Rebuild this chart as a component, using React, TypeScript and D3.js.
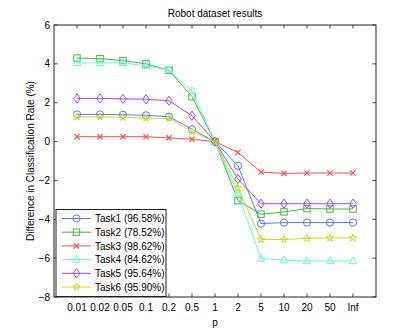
import React, { useEffect, useRef } from 'react';
import * as d3 from 'd3';

const pLabels = ['0.01', '0.02', '0.05', '0.1', '0.2', '0.5', '1', '2', '5', '10', '20', '50', 'Inf'];

const task1 = [1.4, 1.4, 1.38, 1.35, 1.28, 0.63, 0, -1.25, -4.22, -4.17, -4.17, -4.17, -4.17];
const task2 = [4.3, 4.27, 4.17, 4.0, 3.67, 2.31, 0, -3.04, -3.74, -3.62, -3.45, -3.47, -3.47];
const task3 = [0.25, 0.25, 0.25, 0.25, 0.19, 0.12, 0, -0.56, -1.57, -1.64, -1.62, -1.62, -1.62];
const task4 = [4.05, 4.05, 4.05, 3.9, 3.68, 2.6, 0, -2.7, -6.02, -6.1, -6.15, -6.15, -6.15];
const task5 = [2.22, 2.22, 2.2, 2.18, 2.1, 1.33, 0, -1.93, -3.2, -3.2, -3.2, -3.2, -3.2];
const task6 = [1.27, 1.27, 1.25, 1.2, 1.2, 0.5, 0, -2.39, -5.04, -5.04, -4.98, -4.96, -4.96];

const seriesNames = ['Task1 (96.58%)', 'Task2 (78.52%)', 'Task3 (98.62%)', 'Task4 (84.62%)', 'Task5 (95.64%)', 'Task6 (95.90%)'];
const seriesColors = ['#5a78ff', '#44b844', '#ff4c4c', '#66ffc8', '#a844ff', '#c8dc22'];
const seriesMarkers = ['circle', 'square', 'cross', 'triangle', 'diamond', 'star'];
const seriesData = [task1, task2, task3, task4, task5, task6];

const yTicks = [6, 4, 2, 0, -2, -4, -6, -8];

const FONT = 'Liberation Sans, Arial, sans-serif';

// draws a matlab-ish marker centred at 0,0
function drawMarker(g, type, color) {
  if (type === 'circle') {
    g.append('circle').attr('r', 3.6).attr('fill', 'none').attr('stroke', color);
  } else if (type === 'square') {
    g.append('rect').attr('x', -3.2).attr('y', -3.2).attr('width', 6.4).attr('height', 6.4)
      .attr('fill', 'none').attr('stroke', color);
  } else if (type === 'cross') {
    g.append('path').attr('d', 'M-2.6,-2.6L2.6,2.6M-2.6,2.6L2.6,-2.6').attr('stroke', color).attr('stroke-width', 1.2);
  } else if (type === 'triangle') {
    g.append('path').attr('d', 'M0,-4.2L3.8,2.6L-3.8,2.6Z').attr('fill', 'none').attr('stroke', color);
  } else if (type === 'diamond') {
    g.append('path').attr('d', 'M0,-4.6L3.3,0L0,4.6L-3.3,0Z').attr('fill', 'none').attr('stroke', color);
  } else {
    g.append('path').attr('d', d3.symbol(d3.symbolStar, 17)()).attr('fill', 'none').attr('stroke', color);
  }
}

const App = () => {
  const ref = useRef(null);

  useEffect(() => {
    const svg = d3.select(ref.current);
    svg.selectAll('*').remove();

    const left = 54, right = 376, top = 25, bottom = 297;

    const x = d3.scaleLinear().domain([-1, 13]).range([left, right]);
    const y = d3.scaleLinear().domain([-8, 6]).range([bottom, top]);

    svg.append('rect').attr('width', 415).attr('height', 335).attr('fill', '#fff');

    // title
    svg.append('text')
      .attr('x', 215).attr('y', 17)
      .attr('text-anchor', 'middle')
      .style('font-family', FONT).style('font-size', '10px')
      .text('Robot dataset results');

    // box
    svg.append('rect')
      .attr('x', left).attr('y', top).attr('width', right - left).attr('height', bottom - top)
      .attr('fill', 'none').attr('stroke', '#222').attr('stroke-width', 1);

    const ticks = svg.append('g').attr('stroke', '#222').attr('stroke-width', 0.8);
    pLabels.forEach((lab, i) => {
      ticks.append('line').attr('x1', x(i)).attr('x2', x(i)).attr('y1', bottom).attr('y2', bottom - 3.5);
      ticks.append('line').attr('x1', x(i)).attr('x2', x(i)).attr('y1', top).attr('y2', top + 3.5);
    });
    yTicks.forEach((v) => {
      ticks.append('line').attr('x1', left).attr('x2', left + 3.5).attr('y1', y(v)).attr('y2', y(v));
      ticks.append('line').attr('x1', right).attr('x2', right - 3.5).attr('y1', y(v)).attr('y2', y(v));
    });

    svg.append('g').selectAll('text').data(pLabels).enter().append('text')
      .attr('x', (d, i) => x(i)).attr('y', bottom + 13.5)
      .attr('text-anchor', 'middle')
      .style('font-family', FONT).style('font-size', '10px')
      .text((d) => d);

    svg.append('g').selectAll('text').data(yTicks).enter().append('text')
      .attr('x', left - 4).attr('y', (d) => y(d) + 3.5)
      .attr('text-anchor', 'end')
      .style('font-family', FONT).style('font-size', '10px')
      .text((d) => (d < 0 ? '\u2212' + Math.abs(d) : String(d)));

    svg.append('text')
      .attr('x', 215).attr('y', 326)
      .attr('text-anchor', 'middle')
      .style('font-family', FONT).style('font-size', '10px')
      .text('p');

    svg.append('text')
      .attr('transform', `translate(34,${(top + bottom) / 2}) rotate(-90)`)
      .attr('text-anchor', 'middle')
      .style('font-family', FONT).style('font-size', '10px')
      .text('Difference in Classification Rate (%)');

    // series
    const line = d3.line().x((d, i) => x(i)).y((d) => y(d));
    seriesData.forEach((vals, k) => {
      svg.append('path').datum(vals)
        .attr('d', line)
        .attr('fill', 'none').attr('stroke', seriesColors[k]).attr('stroke-width', 1);
      vals.forEach((v, i) => {
        const g = svg.append('g').attr('transform', `translate(${x(i)},${y(v)})`);
        drawMarker(g, seriesMarkers[k], seriesColors[k]);
      });
    });

    // legend
    const lg = svg.append('g');
    lg.append('rect').attr('x', 56).attr('y', 209.5).attr('width', 110).attr('height', 87)
      .attr('fill', '#fff').attr('stroke', '#222').attr('stroke-width', 1);
    seriesNames.forEach((name, k) => {
      const ly = 218.5 + k * 13.7;
      lg.append('line').attr('x1', 62).attr('x2', 91).attr('y1', ly).attr('y2', ly)
        .attr('stroke', seriesColors[k]).attr('stroke-width', 1);
      const g = lg.append('g').attr('transform', `translate(76.5,${ly})`);
      drawMarker(g, seriesMarkers[k], seriesColors[k]);
      lg.append('text').attr('x', 95).attr('y', ly + 3.6)
        .style('font-family', FONT).style('font-size', '10px')
        .text(name);
    });
  }, []);

  return (
    <svg ref={ref} width={415} height={335} style={{ position: 'absolute', left: 0, top: 0 }} />
  );
};

export default App;
